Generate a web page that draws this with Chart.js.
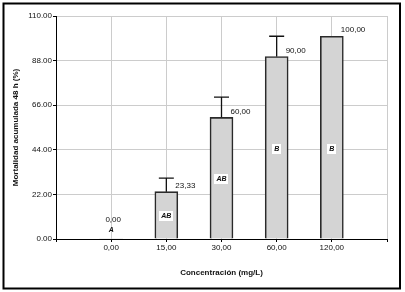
<!DOCTYPE html>
<html><head><meta charset="utf-8">
<script src="https://cdn.jsdelivr.net/npm/chart.js@4/dist/chart.umd.min.js"></script>
<style>html,body{margin:0;padding:0;background:#fff;}</style>
</head><body><canvas id="c" width="405" height="292"></canvas>
<script>
const categories = ['0,00', '15,00', '30,00', '60,00', '120,00'];
const mortality = [0, 23.33, 60, 90, 100];
const errorUp = [0, 6.67, 10, 10, 0];
const groupLetters = ['A', 'AB', 'AB', 'B', 'B'];
const yTicks = [0, 22, 44, 66, 88, 110];
const yTickLabels = ['0.00', '22.00', '44.00', '66.00', '88.00', '110.00'];

const FONT = "'Liberation Sans', Arial, sans-serif";
Chart.defaults.font.family = FONT;
Chart.defaults.font.size = 8;
Chart.defaults.color = '#111';
const GRID = '#cccccc';

const labels = [''].concat(categories, ['']);
const data = [null].concat(mortality, [null]);

const align = (p) => Math.round(p - 0.5) + 0.5;

const gridFallback = {
  id: 'gridFallback',
  beforeDatasetsDraw(chart) {
    const ctx = chart.ctx, a = chart.chartArea, xs = chart.scales.x, ys = chart.scales.y;
    ctx.save();
    ctx.strokeStyle = GRID;
    ctx.lineWidth = 1;
    ctx.beginPath();
    yTicks.forEach((v) => {
      if (v === 0) return;
      const y = align(ys.getPixelForValue(v));
      ctx.moveTo(a.left + 1, y); ctx.lineTo(a.right, y);
    });
    for (let i = 1; i < labels.length; i++) {
      const x = align(xs.getPixelForTick(i));
      ctx.moveTo(x, a.top); ctx.lineTo(x, a.bottom - 1);
    }
    ctx.stroke();
    ctx.restore();
  }
};

const extras = {
  id: 'extras',
  afterDatasetsDraw(chart) {
    const ctx = chart.ctx;
    const meta = chart.getDatasetMeta(0);
    const ys = chart.scales.y;
    const zeroPx = ys.getPixelForValue(0);
    ctx.save();
    mortality.forEach((v, i) => {
      const bar = meta.data[i + 1];
      const x = bar.x;
      if (errorUp[i] > 0) {
        const yTop = ys.getPixelForValue(v + errorUp[i]);
        ctx.strokeStyle = '#111';
        ctx.lineWidth = 1.3;
        ctx.beginPath();
        ctx.moveTo(x, bar.y);
        ctx.lineTo(x, yTop);
        ctx.moveTo(x - 7.5, yTop);
        ctx.lineTo(x + 7.5, yTop);
        ctx.stroke();
      }
      const txt = v.toFixed(2).replace('.', ',');
      ctx.font = '8px ' + FONT;
      ctx.fillStyle = '#111';
      ctx.textBaseline = 'middle';
      if (v === 0) {
        ctx.textAlign = 'center';
        ctx.fillText(txt, x + 2, zeroPx - 19);
      } else {
        ctx.textAlign = 'left';
        ctx.fillText(txt, x + 9, bar.y - 6);
      }
      const ly = v === 0 ? zeroPx - 9 : ys.getPixelForValue(Math.min(v / 2, 45)) + 1;
      ctx.font = 'italic bold 7px ' + FONT;
      const w = ctx.measureText(groupLetters[i]).width;
      if (v !== 0) {
        ctx.fillStyle = '#fff';
        ctx.fillRect(Math.round(x - w / 2 - 2), Math.round(ly - 5), Math.round(w + 4), 10);
      }
      ctx.fillStyle = '#111';
      ctx.textAlign = 'center';
      ctx.fillText(groupLetters[i], x, ly);
    });
    ctx.restore();
  },
  afterDraw(chart) {
    const ctx = chart.ctx;
    ctx.save();
    ctx.strokeStyle = '#000';
    ctx.lineWidth = 2;
    ctx.strokeRect(3.5, 3.5, 396.5, 285);
    ctx.restore();
  }
};

new Chart(document.getElementById('c'), {
  type: 'bar',
  data: {
    labels: labels,
    datasets: [{
      data: data,
      backgroundColor: '#d4d4d4',
      borderColor: '#2a2a2a',
      borderWidth: (c) => (c.raw ? 1.6 : 0),
      barThickness: 23
    }]
  },
  options: {
    responsive: false,
    animation: false,
    devicePixelRatio: 1,
    layout: { padding: { left: 0, right: 18, top: 16, bottom: 0 } },
    plugins: { legend: { display: false }, tooltip: { enabled: false } },
    scales: {
      x: {
        type: 'category',
        offset: false,
        grid: { color: GRID, offset: false, tickLength: 3, tickColor: '#000' },
        border: { color: '#000', width: 1 },
        ticks: { padding: 1, maxRotation: 0, autoSkip: false, color: '#111' },
        title: { display: true, text: 'Concentración (mg/L)', font: { size: 8, weight: 'bold' }, color: '#111', padding: { top: 0, bottom: 14.5 } },
        afterFit(s) { s.height = 53; }
      },
      y: {
        min: 0, max: 110,
        afterBuildTicks(s) { s.ticks = yTicks.map(v => ({ value: v })); },
        grid: { color: GRID, tickLength: 3, tickColor: '#000' },
        border: { color: '#000', width: 1 },
        ticks: { padding: 1, color: '#111', callback: (v) => yTickLabels[yTicks.indexOf(v)] },
        title: { display: true, text: 'Mortalidad acumulada 48 h (%)', font: { size: 8, weight: 'bold' }, color: '#111', padding: { top: 10.5, bottom: 0 } },
        afterFit(s) { s.width = 56; }
      }
    }
  },
  plugins: [gridFallback, extras]
});
</script>
</body></html>
